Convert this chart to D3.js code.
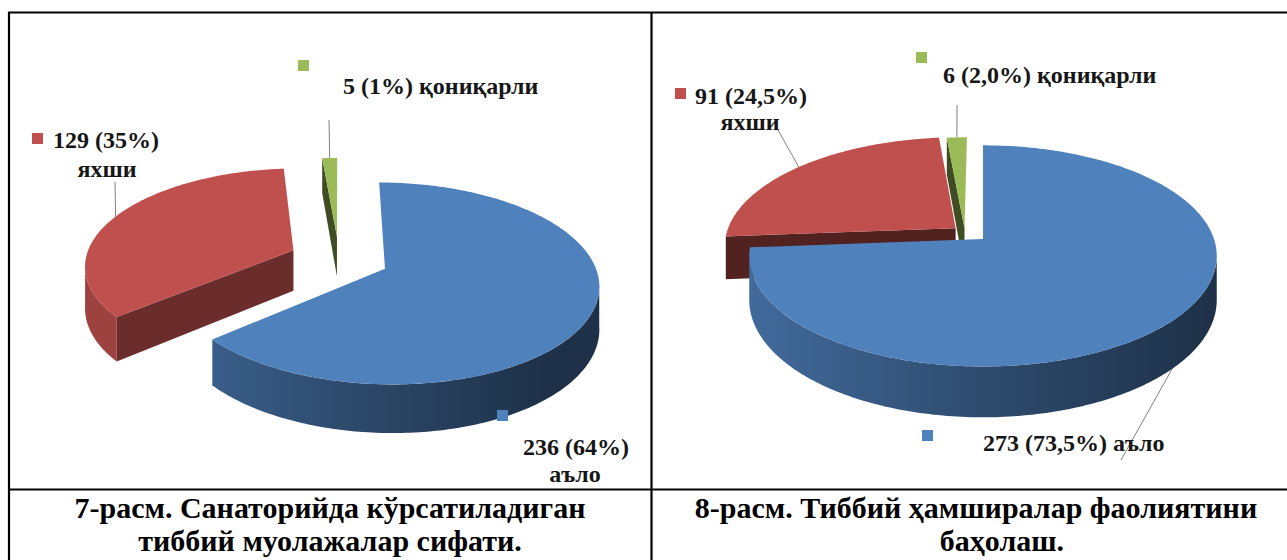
<!DOCTYPE html>
<html>
<head>
<meta charset="utf-8">
<script src="https://cdn.jsdelivr.net/npm/d3@7"></script>
<style>
  html, body { margin: 0; padding: 0; background: #fff; }
  svg { display: block; }
</style>
</head>
<body>
<svg id="chart" width="1287" height="560"></svg>
<script>
// ---- data ----
const categories = ["аъло", "яхши", "қониқарли"];
const colors     = ["#4F81BD", "#C0504D", "#9BBB59"];
const values7    = [236, 129, 5];
const percents7  = ["64%", "35%", "1%"];
const values8    = [273, 91, 6];
const percents8  = ["73,5%", "24,5%", "2,0%"];
const caption7   = ["7-расм. Санаторийда кўрсатиладиган", "тиббий муолажалар сифати."];
const caption8   = ["8-расм. Тиббий ҳамширалар фаолиятини", "баҳолаш."];

const FONT = "'Liberation Serif', Tinos, 'Times New Roman', 'DejaVu Serif', serif";

// ---- layout (3D view + label placement) ----
const charts = [
  {
    id: "c7", values: values7, percents: percents7,
    cx: 339, cy: 259, rx: 208, ry: 96, p: 0.143, h: 41,
    explode: [[0.24, null], [0.24, null], [0.24, null]],
    labels: [
      { key: [497, 410], split: true, lines: [[523, 455, "start"], [575, 482, "middle"]], leader: null },
      { key: [32, 133],  split: true, lines: [[53, 148, "start"], [107, 177, "middle"]], leader: [115, 182] },
      { key: [298, 60],  split: false, lines: [[343, 94, "start"]], leader: [329, 120] }
    ],
    caption: caption7, capX: [330, 330]
  },
  {
    id: "c8", values: values8, percents: percents8,
    cx: 983, cy: 239, rx: 231, ry: 108, p: 0.153, h: 43,
    explode: [[0, null], [0.157, null], [0.129, 321]],
    labels: [
      { key: [922, 430], split: false, lines: [[983, 451, "start"]], leader: [1121, 460] },
      { key: [675, 88],  split: true, lines: [[695, 104, "start"], [750, 130, "middle"]], leader: [778, 130] },
      { key: [916, 52],  split: false, lines: [[943, 83, "start"]], leader: [957, 105] }
    ],
    caption: caption8, capX: [976, 1002]
  }
];

const svg = d3.select("#chart");
const defs = svg.append("defs");
const line = d3.line();

function scaleColor(c, f) {
  const r = d3.rgb(c);
  return d3.rgb(r.r * f, r.g * f, r.b * f).formatHex();
}

charts.forEach(c => {
  const pie = d3.pie().sort(null).value(d => d)(c.values);
  const g = svg.append("g");

  // perspective projection of a point in the pie plane (u right, v toward viewer)
  const proj = (u, v, down) => {
    const k = 1 / (1 - c.p * v);
    return [c.cx + c.rx * u * k, c.cy + c.ry * v * k + (down ? c.h * k : 0)];
  };

  // wall gradients
  colors.forEach((col, i) => {
    const gr = defs.append("linearGradient")
      .attr("id", `${c.id}-wall-${i}`)
      .attr("gradientUnits", "userSpaceOnUse")
      .attr("x1", c.cx - c.rx).attr("x2", c.cx + c.rx)
      .attr("y1", 0).attr("y2", 0);
    gr.append("stop").attr("offset", "0%").attr("stop-color", scaleColor(col, 0.82));
    gr.append("stop").attr("offset", "50%").attr("stop-color", scaleColor(col, 0.58));
    gr.append("stop").attr("offset", "100%").attr("stop-color", scaleColor(col, 0.38));
  });

  const slices = pie.map((d, i) => {
    const mid = (d.startAngle + d.endAngle) / 2;
    const [e, dir] = c.explode[i];
    const a = dir == null ? mid : dir * Math.PI / 180;
    const ox = e * Math.sin(a), oy = -e * Math.cos(a);
    return { d, i, mid, ox, oy, depth: oy - Math.cos(mid) * 0.5 };
  });

  const silA = Math.acos(-c.p), silB = 2 * Math.PI - silA;

  slices.slice().sort((a, b) => a.depth - b.depth).forEach(s => {
    const { d, i, ox, oy } = s;
    const col = colors[i];
    const pt = (ang, down) => proj(ox + Math.sin(ang), oy - Math.cos(ang), down);
    const apex = down => proj(ox, oy, down);
    const arc = (a0, a1, down) => {
      const n = Math.max(2, Math.ceil(Math.abs(a1 - a0) / (Math.PI / 180)));
      return d3.range(n + 1).map(j => pt(a0 + (a1 - a0) * j / n, down));
    };

    // outer wall
    const lo = Math.max(d.startAngle, silA), hi = Math.min(d.endAngle, silB);
    if (hi > lo) {
      const pts = arc(lo, hi, false).concat(arc(hi, lo, true));
      g.append("path").attr("d", line(pts) + "Z").attr("fill", `url(#${c.id}-wall-${i})`);
    }

    // radial faces
    const face = (ang, nu) => {
      const f = 0.41 + 0.23 * Math.max(0, nu);
      g.append("path")
        .attr("d", line([apex(false), pt(ang, false), pt(ang, true), apex(true)]) + "Z")
        .attr("fill", scaleColor(col, f));
    };
    if (-Math.sin(d.startAngle) > 0.01) face(d.startAngle, -Math.cos(d.startAngle));
    if (Math.sin(d.endAngle) > 0.01) face(d.endAngle, Math.cos(d.endAngle));

    // top surface
    const top = [apex(false)].concat(arc(d.startAngle, d.endAngle, false));
    g.append("path").attr("d", line(top) + "Z").attr("fill", col);

    s.anchor = -Math.cos(s.mid) + oy > 0 ? pt(s.mid, true) : pt(s.mid, false);
  });

  // leader lines
  slices.forEach(s => {
    const L = c.labels[s.i];
    if (!L.leader) return;
    g.append("path")
      .attr("d", line([L.leader, s.anchor]))
      .attr("stroke", "#7f7f7f").attr("stroke-width", 1).attr("fill", "none");
  });

  // data labels
  slices.forEach(s => {
    const L = c.labels[s.i];
    g.append("rect")
      .attr("x", L.key[0]).attr("y", L.key[1])
      .attr("width", 11).attr("height", 11)
      .attr("fill", colors[s.i]);
    const head = `${c.values[s.i]} (${c.percents[s.i]})`;
    const texts = L.split ? [head, categories[s.i]] : [`${head} ${categories[s.i]}`];
    texts.forEach((t, j) => {
      g.append("text")
        .attr("x", L.lines[j][0]).attr("y", L.lines[j][1])
        .attr("text-anchor", L.lines[j][2])
        .attr("font-family", FONT)
        .attr("font-weight", "bold")
        .attr("font-size", 24)
        .attr("fill", "#161616")
        .text(t);
    });
  });

  // caption
  c.caption.forEach((t, j) => {
    svg.append("text")
      .attr("x", c.capX[j]).attr("y", 518 + j * 33)
      .attr("text-anchor", "middle")
      .attr("font-family", FONT)
      .attr("font-weight", "bold")
      .attr("font-size", 30)
      .attr("fill", "#000")
      .text(t);
  });
});

// table borders
const borders = [
  [[8, 12.5], [1287, 12.5]],
  [[9, 12], [9, 560]],
  [[651.5, 12], [651.5, 560]],
  [[8, 489.5], [1287, 489.5]]
];
svg.append("g").selectAll("path")
  .data(borders)
  .join("path")
  .attr("d", d => line(d))
  .attr("stroke", "#000")
  .attr("stroke-width", 2.2);
</script>
</body>
</html>
